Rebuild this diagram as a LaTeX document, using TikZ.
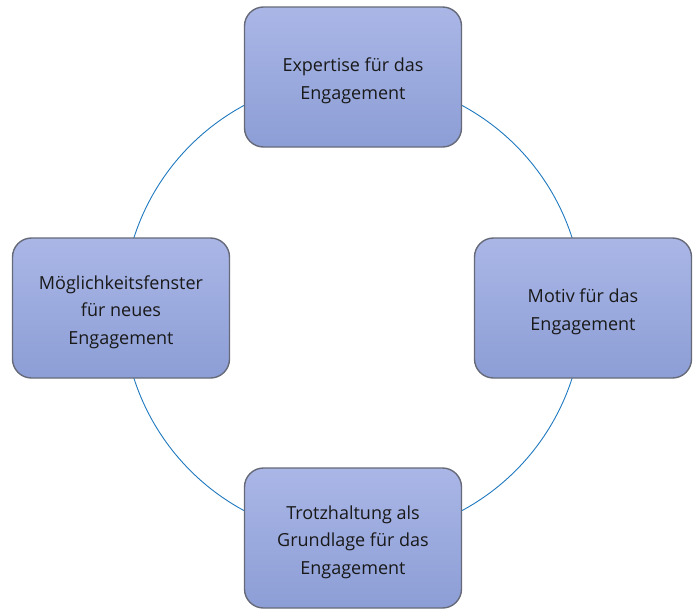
\documentclass[tikz,border=0pt]{standalone}
\usepackage{fontspec}
\setmainfont{Open Sans}
\definecolor{ringblue}{RGB}{30,120,190}
\definecolor{boxtop}{RGB}{170,182,230}
\definecolor{boxbot}{RGB}{140,158,214}
\definecolor{boxedge}{RGB}{102,106,120}
\begin{document}
\begin{tikzpicture}[x=1pt,y=-1pt,
  stagetext/.style={align=center, font=\fontsize{18}{27.5}\selectfont, text=black!90, yshift=-4pt},
  stagebox/.style={draw=boxedge, line width=1.4pt, rounded corners=19pt,
    top color=boxtop, bottom color=boxbot,
    minimum width=217pt, minimum height=140pt,
    label={[stagetext]center:#1}}]
\useasboundingbox (0,0) rectangle (698,608);
\coordinate (c) at (353,308);
\draw[ringblue, line width=0.9pt] (c) circle[radius=230];
\node[stagebox={Expertise für das\\Engagement}] (top) at (353,77) {};
\node[stagebox={Möglichkeitsfenster\\für neues\\Engagement}] (left) at (121,308) {};
\node[stagebox={Motiv für das\\Engagement}] (right) at (583,308) {};
\node[stagebox={Trotzhaltung als\\Grundlage für das\\Engagement}] (bottom) at (353,538) {};
\end{tikzpicture}
\end{document}
